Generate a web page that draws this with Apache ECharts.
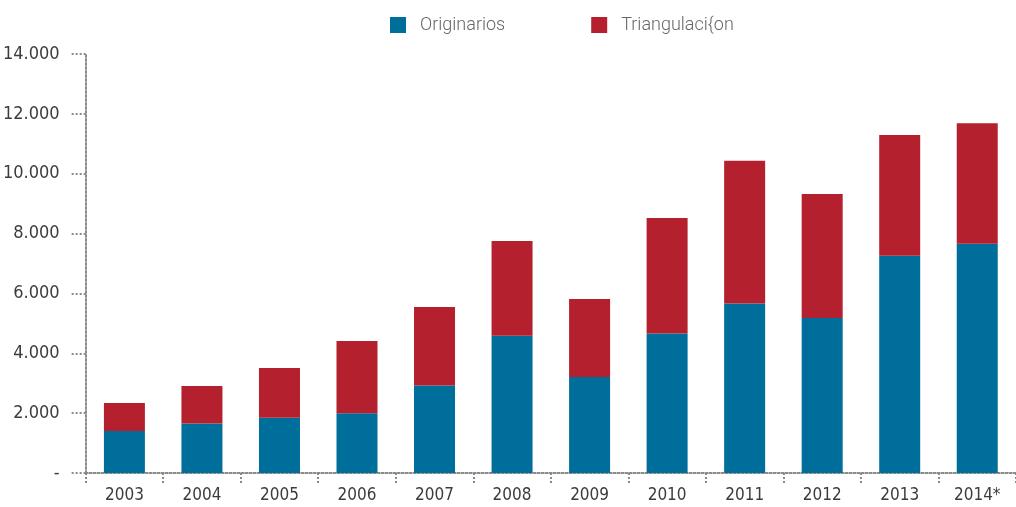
<!DOCTYPE html>
<html>
<head>
<meta charset="utf-8">
<script src="https://cdn.jsdelivr.net/npm/echarts@6/dist/echarts.min.js"></script>
<style>
  html, body { margin: 0; padding: 0; background: #fff; }
  #chart { width: 1016px; height: 507px; }
</style>
</head>
<body>
<div id="chart"></div>
<script>
var years = ['2003', '2004', '2005', '2006', '2007', '2008', '2009', '2010', '2011', '2012', '2013', '2014*'];
var originarios = [1400, 1650, 1850, 2000, 2920, 4590, 3210, 4660, 5660, 5180, 7260, 7660];
var triangulacion = [940, 1260, 1660, 2410, 2630, 3160, 2600, 3860, 4770, 4140, 4030, 4030];
var yTicks = [0, 2000, 4000, 6000, 8000, 10000, 12000, 14000];

var chart = echarts.init(document.getElementById('chart'));

var dotted = { color: '#8a8a8a', type: [2, 2], width: 2 };
var narrow = '"Liberation Sans Narrow", "DejaVu Sans Condensed", sans-serif';

function fmtThousands(v) {
  if (v === 0) return '-';
  return String(v).replace(/\B(?=(\d{3})+(?!\d))/g, '.');
}

var option = {
  animation: false,
  color: ['#006e9b', '#b5202e'],
  legend: {
    top: 11,
    left: 385,
    itemWidth: 16,
    itemHeight: 16,
    itemGap: 86,
    icon: 'rect',
    textStyle: {
      fontFamily: 'Roboto, sans-serif',
      fontWeight: 300,
      fontSize: 18,
      color: '#666666',
      padding: [0, 0, 0, 9]
    },
    data: ['Originarios', 'Triangulaci{on']
  },
  grid: {
    left: 85,
    top: 54,
    width: 934,
    bottom: 34
  },
  xAxis: {
    type: 'category',
    data: years,
    axisLine: { lineStyle: dotted },
    axisTick: { show: true, length: 12, lineStyle: dotted },
    axisLabel: {
      margin: 14,
      fontFamily: narrow,
      fontSize: 17,
      color: '#3c3c3c'
    }
  },
  yAxis: {
    type: 'value',
    min: yTicks[0],
    max: yTicks[yTicks.length - 1],
    interval: 2000,
    splitLine: { show: false },
    axisLine: { show: true, lineStyle: dotted },
    axisTick: { show: true, length: 14, lineStyle: dotted },
    axisLabel: {
      margin: 26,
      fontFamily: narrow,
      fontSize: 18,
      color: '#3c3c3c',
      formatter: fmtThousands
    }
  },
  series: [
    {
      name: 'Originarios',
      type: 'bar',
      stack: 'total',
      barWidth: 41,
      data: originarios
    },
    {
      name: 'Triangulaci{on',
      type: 'bar',
      stack: 'total',
      barWidth: 41,
      data: triangulacion
    }
  ]
};

chart.setOption(option);
window.addEventListener('resize', function () {
  chart.resize();
});
</script>
</body>
</html>
